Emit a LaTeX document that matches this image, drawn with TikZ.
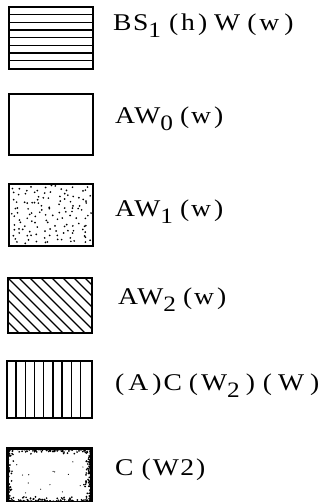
\documentclass[tikz,border=0pt]{standalone}
\usepackage{fontspec}
\setmainfont{Liberation Serif}[LetterSpace=6, FakeStretch=1.15]
\newcommand{\lsub}[1]{\raisebox{-7pt}{\fontsize{22}{22}\selectfont #1}}
\newcommand{\g}[1]{\hspace{#1pt}}
\begin{document}
\begin{tikzpicture}[x=1pt,y=-1pt,
  legbox/.style={draw=black, line width=1.8pt, minimum width=84pt, minimum height=60pt, inner sep=0pt, anchor=north west},
  hatch/.style={line width=1.4pt},
  lab/.style={anchor=west, inner sep=0pt, font=\fontsize{24}{26}\selectfont},
  horizfill/.style={path picture={
     \foreach \k in {1,...,7}{\draw[hatch] ([yshift=-\k*7.7pt]path picture bounding box.north west) -- ([yshift=-\k*7.7pt]path picture bounding box.north east);}}},
  vertfill/.style={path picture={
     \foreach \k in {1,...,8}{\draw[hatch] ([xshift=\k*9.2pt]path picture bounding box.north west) -- ([xshift=\k*9.2pt]path picture bounding box.south west);}}},
  diagfill/.style={path picture={
     \foreach \k in {-6,...,8}{\draw[hatch] ([xshift=\k*11pt]path picture bounding box.north west) -- ++(70pt,-70pt);}}},
  dotfill/.style={path picture={
     \pgfmathsetseed{7}
     \foreach \i in {0,...,12}{\foreach \j in {0,...,9}{\pgfmathsetmacro\dx{4+\i*6.3+3.5*rand}\pgfmathsetmacro\dy{4+\j*5.9+3*rand}
        \fill ([xshift=\dx pt, yshift=-\dy pt]path picture bounding box.north west) circle (0.95pt);}}}},
  roughfill/.style={path picture={
     \pgfmathsetseed{11}
     \foreach \k in {1,...,150}{\pgfmathsetmacro\dx{84*rnd}\pgfmathsetmacro\dy{6.5*rnd*rnd}\pgfmathsetmacro\ex{84*rnd}\pgfmathsetmacro\ey{6.5*rnd*rnd}
        \fill ([xshift=\dx pt, yshift=-\dy pt]path picture bounding box.north west) circle (0.95pt);
        \fill ([xshift=\ex pt, yshift=\ey pt]path picture bounding box.south west) circle (0.95pt);}
     \foreach \k in {1,...,100}{\pgfmathsetmacro\dx{6.5*rnd*rnd}\pgfmathsetmacro\dy{54*rnd}\pgfmathsetmacro\ex{7.5*rnd*rnd}\pgfmathsetmacro\ey{54*rnd}
        \fill ([xshift=\dx pt, yshift=-\dy pt]path picture bounding box.north west) circle (0.95pt);
        \fill ([xshift=-\ex pt, yshift=-\ey pt]path picture bounding box.north east) circle (0.95pt);}
     \foreach \k in {1,...,14}{\pgfmathsetmacro\dx{8+68*rnd}\pgfmathsetmacro\dy{8+38*rnd}
        \fill ([xshift=\dx pt, yshift=-\dy pt]path picture bounding box.north west) circle (0.6pt);}}}
]
\useasboundingbox (0,0) rectangle (329,502);
\node[legbox, horizfill, minimum height=62pt] (b1) at (8,6) {};
\node[legbox, minimum height=61pt] (b2) at (8,93) {};
\node[legbox, dotfill, minimum height=62pt] (b3) at (8,183) {};
\node[legbox, diagfill, minimum height=55pt] (b4) at (7,277) {};
\node[legbox, vertfill, minimum height=57pt, minimum width=85pt] (b5) at (6,360) {};
\node[legbox, roughfill, line width=2.6pt, minimum height=54pt] (b6) at (6,447) {};

\node[lab] (t1) at (113,26) {BS\lsub{1}\g{8}(\g{3}h\g{3})\g{7}W\g{7}(\g{3}w\g{5})};
\node[lab] (t2) at (115,119) {AW\lsub{0}\g{7}(\g{2}w\g{3})};
\node[lab] (t3) at (115,212) {AW\lsub{1}\g{7}(\g{2}w\g{3})};
\node[lab] (t4) at (118,300) {AW\lsub{2}\g{7}(\g{2}w\g{3})};
\node[lab] (t5) at (115,386) {(\g{4}A\g{4})\g{2}C\g{7}(\g{3}W\lsub{2}\g{6})\g{8}(\g{6}W\g{6})};
\node[lab] (t6) at (115,470) {C\g{8}(\g{2}W2\g{2})};
\end{tikzpicture}
\end{document}
